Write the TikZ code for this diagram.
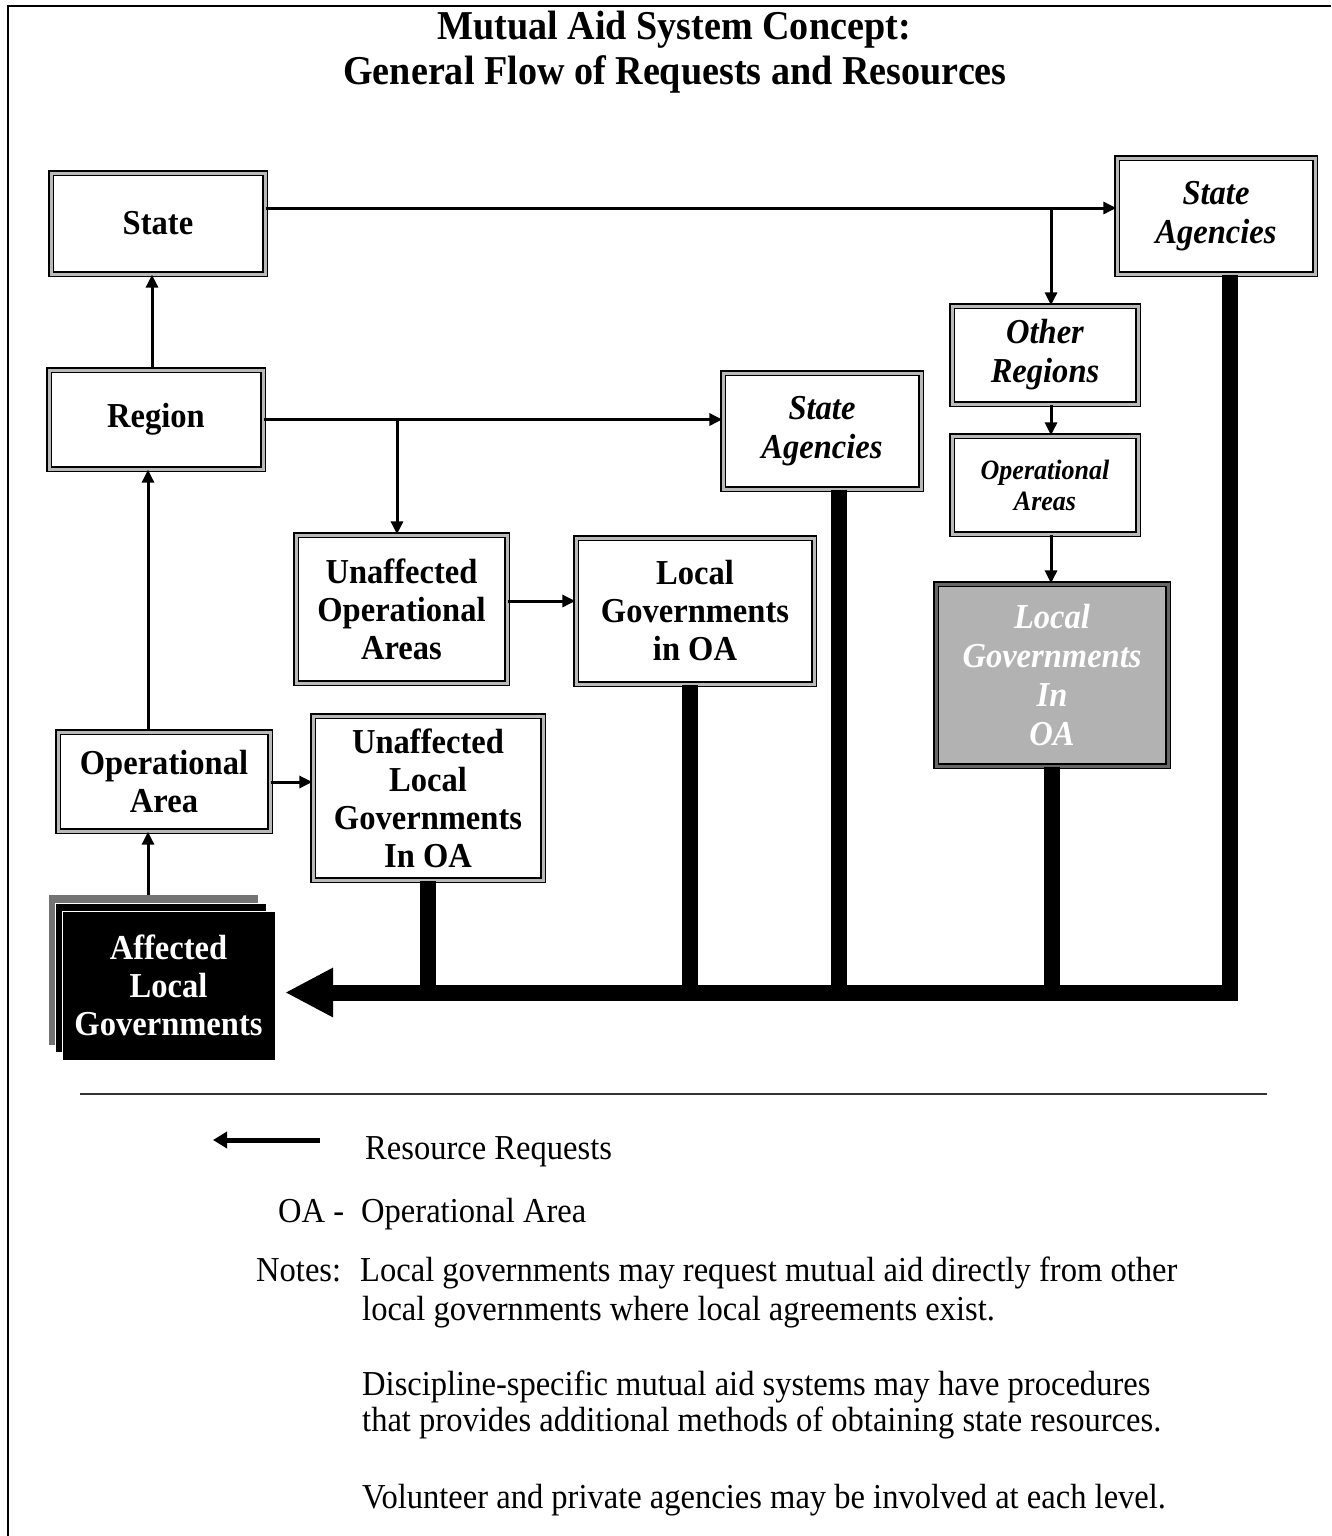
\documentclass[tikz,border=0pt]{standalone}
\usepackage{fontspec}
\setmainfont[FakeStretch=0.93]{Liberation Serif}
\usetikzlibrary{arrows.meta}
\newcommand\bxfont{\fontsize{35}{38}\selectfont\bfseries}
\newcommand\itfont{\fontsize{35}{39}\selectfont\bfseries\itshape}
\newcommand\smitfont{\fontsize{28}{31}\selectfont\bfseries\itshape}
\newcommand\txfont{\fontsize{35}{38}\selectfont}
\newcommand\ttlfont{\fontsize{41}{45}\selectfont\bfseries}
\tikzset{
  box/.style={draw=black, double=gray!55, double distance=3pt, line width=1.3pt, fill=white,
    inner sep=0pt, align=center, font=\bxfont},
  itbox/.style={box, font=\itfont},
  smitbox/.style={box, font=\smitfont},
  graybox/.style={box, double=gray!80!black, fill=black!30, text=white, font=\itfont},
  req/.style={line width=3pt, -{Triangle[length=13pt,width=12pt]}},
  res/.style={line width=16pt, line join=miter},
  txt/.style={anchor=base west, inner sep=0pt, font=\txfont}
}
\begin{document}
\begin{tikzpicture}[x=1pt,y=-1pt]
\useasboundingbox (0,0) rectangle (1331,1536);
\fill[white] (0,0) rectangle (1331,1536);
% frame
\draw[line width=2.5pt] (8,1536) -- (8,6) -- (1331,6);
% title
\node[anchor=base, inner sep=0pt, font=\ttlfont] (t1) at (674,40) {Mutual Aid System Concept:};
\node[anchor=base, inner sep=0pt, font=\ttlfont] (t2) at (675,85) {General Flow of Requests and Resources};

% boxes
\node[box, minimum width=214pt, minimum height=101pt] (state) at (158,223.5) {State};
\node[box, minimum width=214pt, minimum height=99pt] (region) at (156,419.5) {Region};
\node[box, minimum width=212pt, minimum height=99pt] (opa) at (164,781.5) {Operational\\Area};
\node[box, minimum width=230pt, minimum height=164pt] (ulg) at (428,798) {Unaffected\\Local\\Governments\\In OA};
\node[box, minimum width=211pt, minimum height=148pt] (uoa) at (401.5,609) {Unaffected\\Operational\\Areas};
\node[box, minimum width=238pt, minimum height=146pt] (lgoa) at (695,611) {Local\\Governments\\in OA};
\node[itbox, minimum width=198pt, minimum height=116pt] (sa1) at (822,431) {State\\Agencies};
\node[itbox, minimum width=198pt, minimum height=116pt] (sa2) at (1216,216) {State\\Agencies};
\node[itbox, minimum width=186pt, minimum height=98pt] (oreg) at (1045,355) {Other\\Regions};
\node[smitbox, minimum width=186pt, minimum height=98pt] (oas) at (1045,485) {Operational\\Areas};
\node[graybox, minimum width=232pt, minimum height=182pt] (lgg) at (1052,675) {Local\\Governments\\In\\OA};

% affected local governments (stacked)
\fill[black!55] (49,895) rectangle (258,1045);
\filldraw[fill=black, draw=white, line width=0.8pt] (55,903) rectangle (266,1052);
\node[fill=black, draw=white, line width=0.8pt, minimum width=213pt, minimum height=149pt, inner sep=0pt,
  align=center, text=white, font=\bxfont] (aff) at (168.5,985.5) {Affected\\Local\\Governments};

% request connectors
\coordinate (j1) at (1051,208);
\coordinate (j2) at (397,421);
\draw[req] ([yshift=15.5pt]state.east) -- ([yshift=15.5pt]state.east -| sa2.west);
\draw[req] (j1) -- (j1 |- oreg.north);
\draw[req] ([xshift=6pt]oreg.south) -- ([xshift=6pt]oas.north);
\draw[req] ([xshift=6pt]oas.south) -- ([xshift=6pt]oas.south |- lgg.north);
\draw[req] ([xshift=-4pt]region.north) -- ([xshift=-4pt]region.north |- state.south);
\draw[req] (region.east) -- (region.east -| sa1.west);
\draw[req] (j2) -- (j2 |- uoa.north);
\draw[req] ([yshift=8pt]uoa.east) -- ([yshift=8pt]uoa.east -| lgoa.west);
\draw[req] ([xshift=-16pt]opa.north) -- ([xshift=-16pt]opa.north |- region.south);
\draw[req] ([yshift=-0.5pt]opa.east) -- ([yshift=-0.5pt]opa.east -| ulg.west);
\draw[req] (148,895) -- (148,895 |- opa.south);

% resource flow (thick)
\coordinate (corner) at (1230,992.5);
\coordinate (tip) at (285,992.5);
\draw[res, -{Triangle[length=48pt,width=46pt]}] (sa2.south -| corner) -- (corner) -- (tip);
\draw[res] (ulg.south) -- (ulg.south |- corner);
\draw[res] ([xshift=-5pt]lgoa.south) -- ([xshift=-5pt]lgoa.south |- corner);
\draw[res] ([xshift=17pt]sa1.south) -- ([xshift=17pt]sa1.south |- corner);
\draw[res] (lgg.south) -- (lgg.south |- corner);

% legend
\draw[line width=2pt, black!80] (80,1094) -- (1267,1094);
\coordinate (la) at (320,1140);
\coordinate (lb) at (213,1140);
\draw[line width=5pt, -{Triangle[length=14pt,width=16pt]}] (la) -- (lb);
\node[txt] (l1) at (365,1159) {Resource Requests};
\node[txt] (l2) at (278,1222) {OA -};
\node[txt] (l3) at (361,1222) {Operational Area};
\node[txt] (n0) at (256,1281) {Notes:};
\node[txt] (n1) at (360,1281) {Local governments may request mutual aid directly from other};
\node[txt] (n2) at (362,1320) {local governments where local agreements exist.};
\node[txt] (n3) at (362,1395) {Discipline-specific mutual aid systems may have procedures};
\node[txt] (n4) at (362,1431) {that provides additional methods of obtaining state resources.};
\node[txt] (n5) at (362,1508) {Volunteer and private agencies may be involved at each level.};
\end{tikzpicture}
\end{document}
